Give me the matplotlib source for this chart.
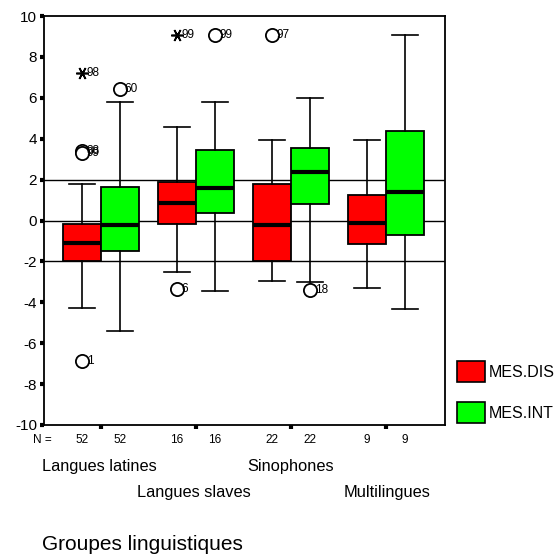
import numpy as np
from matplotlib import pyplot as plt
from matplotlib.patches import Patch

plt.rcParams["font.family"] = ["Liberation Sans", "DejaVu Sans"]
plt.rcParams["axes.unicode_minus"] = False

groups = ["Langues latines", "Langues slaves", "Sinophones", "Multilingues"]
counts = [52, 16, 22, 9]

# MES.DIS : whislo, q1, med, q3, whishi per group
dis_whislo = [-4.26, -2.5, -2.94, -3.28]
dis_q1 = [-2.0, -0.15, -2.0, -1.13]
dis_med = [-1.1, 0.85, -0.2, -0.1]
dis_q3 = [-0.15, 1.9, 1.8, 1.23]
dis_whishi = [1.8, 4.55, 3.92, 3.92]

# MES.INT
int_whislo = [-5.4, -3.43, -3.0, -4.31]
int_q1 = [-1.5, 0.38, 0.82, -0.69]
int_med = [-0.22, 1.58, 2.38, 1.38]
int_q3 = [1.62, 3.47, 3.53, 4.37]
int_whishi = [5.8, 5.8, 6.0, 9.07]

# outliers: (group index, series, value, label, marker)
outliers = [
    (0, "dis", 7.2, "98", "x"),
    (0, "dis", 3.38, "38", "o"),
    (0, "dis", 3.30, "99", "o"),
    (0, "dis", -6.86, "1", "o"),
    (0, "int", 6.45, "60", "o"),
    (1, "dis", 9.07, "99", "x"),
    (1, "dis", -3.33, "6", "o"),
    (1, "int", 9.07, "99", "o"),
    (2, "dis", 9.07, "97", "o"),
    (2, "int", -3.38, "18", "o"),
]

fig = plt.figure(figsize=(5.6, 5.54), dpi=100)
ax = fig.add_axes([44 / 560, 1 - 425 / 554, 401 / 560, 409 / 554])

pos = np.arange(1, len(groups) + 1)
off = 0.2
width = 0.4

for y in [-2, 0, 2]:
    ax.axhline(y, color="black", lw=1.0, zorder=1)


def make_stats(lo, q1, med, q3, hi):
    return [dict(whislo=a, q1=b, med=c, q3=d, whishi=e, fliers=[])
            for a, b, c, d, e in zip(lo, q1, med, q3, hi)]


series = [
    (make_stats(dis_whislo, dis_q1, dis_med, dis_q3, dis_whishi), -off, "#ff0000"),
    (make_stats(int_whislo, int_q1, int_med, int_q3, int_whishi), off, "#00ff00"),
]
for stats, dx, col in series:
    ax.bxp(stats, positions=pos + dx, widths=width, patch_artist=True,
           showfliers=False, manage_ticks=False,
           boxprops=dict(facecolor=col, edgecolor="black", lw=1.3),
           medianprops=dict(color="black", lw=3),
           whiskerprops=dict(color="black", lw=1.2),
           capprops=dict(color="black", lw=1.2),
           capwidths=width * 0.7, zorder=3)

for gi, s, val, lab, mk in outliers:
    x = pos[gi] + (-off if s == "dis" else off)
    if mk == "o":
        ax.plot(x, val, "o", ms=9.5, mfc="white", mec="black", mew=1.3, zorder=4)
    else:
        ax.plot(x, val, marker=(6, 2, 90), ms=9, color="black", mew=1.2, zorder=4)
    ax.text(x + 0.05, val, lab, fontsize=8.5, va="center", ha="left", zorder=5)

ax.set_xlim(0.4, 4.62)
ax.set_ylim(-10, 10)
ax.set_yticks(np.arange(-10, 11, 2))
ax.set_xticks(pos)
ax.set_xticklabels([])
ax.tick_params(axis="y", length=3, width=3, labelsize=11, pad=2)
ax.tick_params(axis="x", length=3, width=3)
for sp in ax.spines.values():
    sp.set_linewidth(1.3)

# N = row
ty = 1 - 440 / 554
fig.text(42 / 560, ty, "N =", fontsize=8.5, ha="center", va="center")
for gi, n in enumerate(counts):
    for dx in (-off, off):
        xd = ax.transData.transform((pos[gi] + dx, 0))[0]
        fig.text(xd / 560, ty, str(n), fontsize=8.5, ha="center", va="center")

# group labels, staggered
fig.text(42 / 560, 1 - 466 / 554, groups[0], fontsize=11.8, va="center")
fig.text(137 / 560, 1 - 492 / 554, groups[1], fontsize=11.8, va="center")
fig.text(247 / 560, 1 - 466 / 554, groups[2], fontsize=11.8, va="center")
fig.text(344 / 560, 1 - 492 / 554, groups[3], fontsize=11.8, va="center")
fig.text(42 / 560, 1 - 544 / 554, "Groupes linguistiques", fontsize=15, va="center")

handles = [Patch(facecolor="#ff0000", edgecolor="black", lw=1.2, label="MES.DIS"),
           Patch(facecolor="#00ff00", edgecolor="black", lw=1.2, label="MES.INT")]
fig.legend(handles=handles, loc="center left", bbox_to_anchor=(457 / 560, 1 - 392 / 554),
           frameon=False, fontsize=11.5, handlelength=1.75, handleheight=1.6,
           labelspacing=1.3, handletextpad=0.25, borderpad=0, borderaxespad=0)

plt.savefig("out.png", dpi=100)
